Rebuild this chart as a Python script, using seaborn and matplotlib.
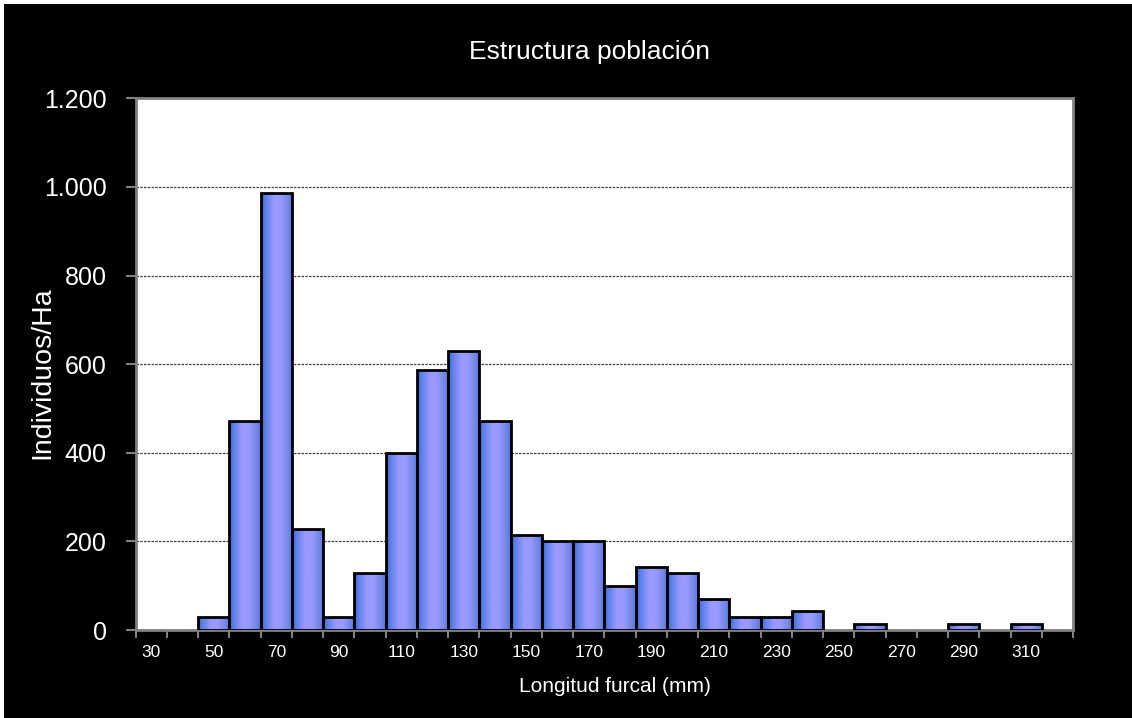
import numpy as np
import pandas as pd
import matplotlib
matplotlib.use('Agg')
import matplotlib.pyplot as plt
from matplotlib.colors import LinearSegmentedColormap
from matplotlib.patches import Rectangle
from matplotlib.ticker import FuncFormatter
import seaborn as sns

# length classes (mm) and density (individuos/Ha)
LENGTHS = [30, 40, 50, 60, 70, 80, 90, 100, 110, 120, 130, 140, 150, 160, 170,
           180, 190, 200, 210, 220, 230, 240, 250, 260, 270, 280, 290, 300, 310, 320]
DENSITY = [0, 0, 29, 471, 986, 229, 29, 129, 400, 586, 629, 471, 214, 200, 200,
           100, 143, 129, 71, 29, 29, 43, 0, 14, 0, 0, 14, 0, 14, 0]
Y_TICKS = [0, 200, 400, 600, 800, 1000, 1200]

GRAY = '#808080'

sns.set_style('white')
plt.rcParams['font.family'] = ['Liberation Sans', 'DejaVu Sans']

df = pd.DataFrame({'len': [str(v) for v in LENGTHS], 'dens': DENSITY})

fig = plt.figure(figsize=(11.32, 7.18), dpi=100, facecolor='white')
# black frame (thin white margin at top/left like the original export)
fig.patches.append(Rectangle((4 / 1132, 0), 1 - 4 / 1132, 1 - 4 / 718,
                             transform=fig.transFigure, facecolor='black',
                             edgecolor='none', zorder=-10))

ax = fig.add_axes([135.7 / 1132, 1 - 630 / 718, (1073 - 135.7) / 1132, (630 - 98.4) / 718])
ax.set_facecolor('white')

sns.barplot(data=df, x='len', y='dens', color='#9999FF', width=1.0,
            edgecolor='black', linewidth=2, saturation=1, ax=ax, zorder=3)

# horizontal gradient fill of the bars, like the excel chart
cmap = LinearSegmentedColormap.from_list(
    'bar', [(0, '#2f62d4'), (0.12, '#5a7ee6'), (0.4, '#9999ff'),
            (0.62, '#9999ff'), (0.88, '#6f86e6'), (1, '#5570d8')])
grad = np.linspace(0, 1, 64).reshape(1, -1)
for p in ax.patches:
    h = p.get_height()
    if h <= 0:
        p.set_visible(False)
        continue
    x0 = p.get_x()
    w = p.get_width()
    im = ax.imshow(grad, cmap=cmap, aspect='auto', extent=[x0, x0 + w, 0, h],
                   zorder=3.5, interpolation='bilinear')
    im.set_clip_path(p)
    p.set_facecolor('none')
    p.set_zorder(4)

ax.set_xlim(-0.5, len(LENGTHS) - 0.5)
ax.set_ylim(0, 1200)

ax.set_yticks(Y_TICKS)
ax.yaxis.set_major_formatter(FuncFormatter(lambda v, _: f'{int(v):,}'.replace(',', '.')))
ax.tick_params(axis='y', colors=GRAY, labelcolor='white', labelsize=18,
               length=7, width=1.5, direction='out', pad=14, left=True)

ax.set_xticks(range(0, len(LENGTHS), 2))
ax.set_xticklabels([str(v) for v in LENGTHS[::2]])
ax.set_xticks(np.arange(-0.5, len(LENGTHS), 1), minor=True)
ax.tick_params(axis='x', which='major', length=0, labelcolor='white',
               labelsize=12.5, pad=11)
ax.tick_params(axis='x', which='minor', colors=GRAY, length=6, width=1.5,
               direction='out', bottom=True)

ax.yaxis.grid(True, color='#404040', linestyle=(0, (2, 1)), linewidth=0.9)
ax.set_axisbelow(True)

for s in ax.spines.values():
    s.set_visible(True)
    s.set_color(GRAY)
    s.set_linewidth(2)

ax.set_xlabel('')
ax.set_ylabel('')
fig.text(42 / 1132, 1 - 373 / 718, 'Individuos/Ha', rotation=90, color='white',
         fontsize=20.5, ha='center', va='center')
fig.text(615 / 1132, 1 - 686 / 718, 'Longitud furcal (mm)', color='white',
         fontsize=15, ha='center', va='center')
fig.text(589.5 / 1132, 1 - 52 / 718, 'Estructura población', color='white',
         fontsize=19, ha='center', va='center')

fig.savefig('out.png', dpi=100, facecolor=fig.get_facecolor())
